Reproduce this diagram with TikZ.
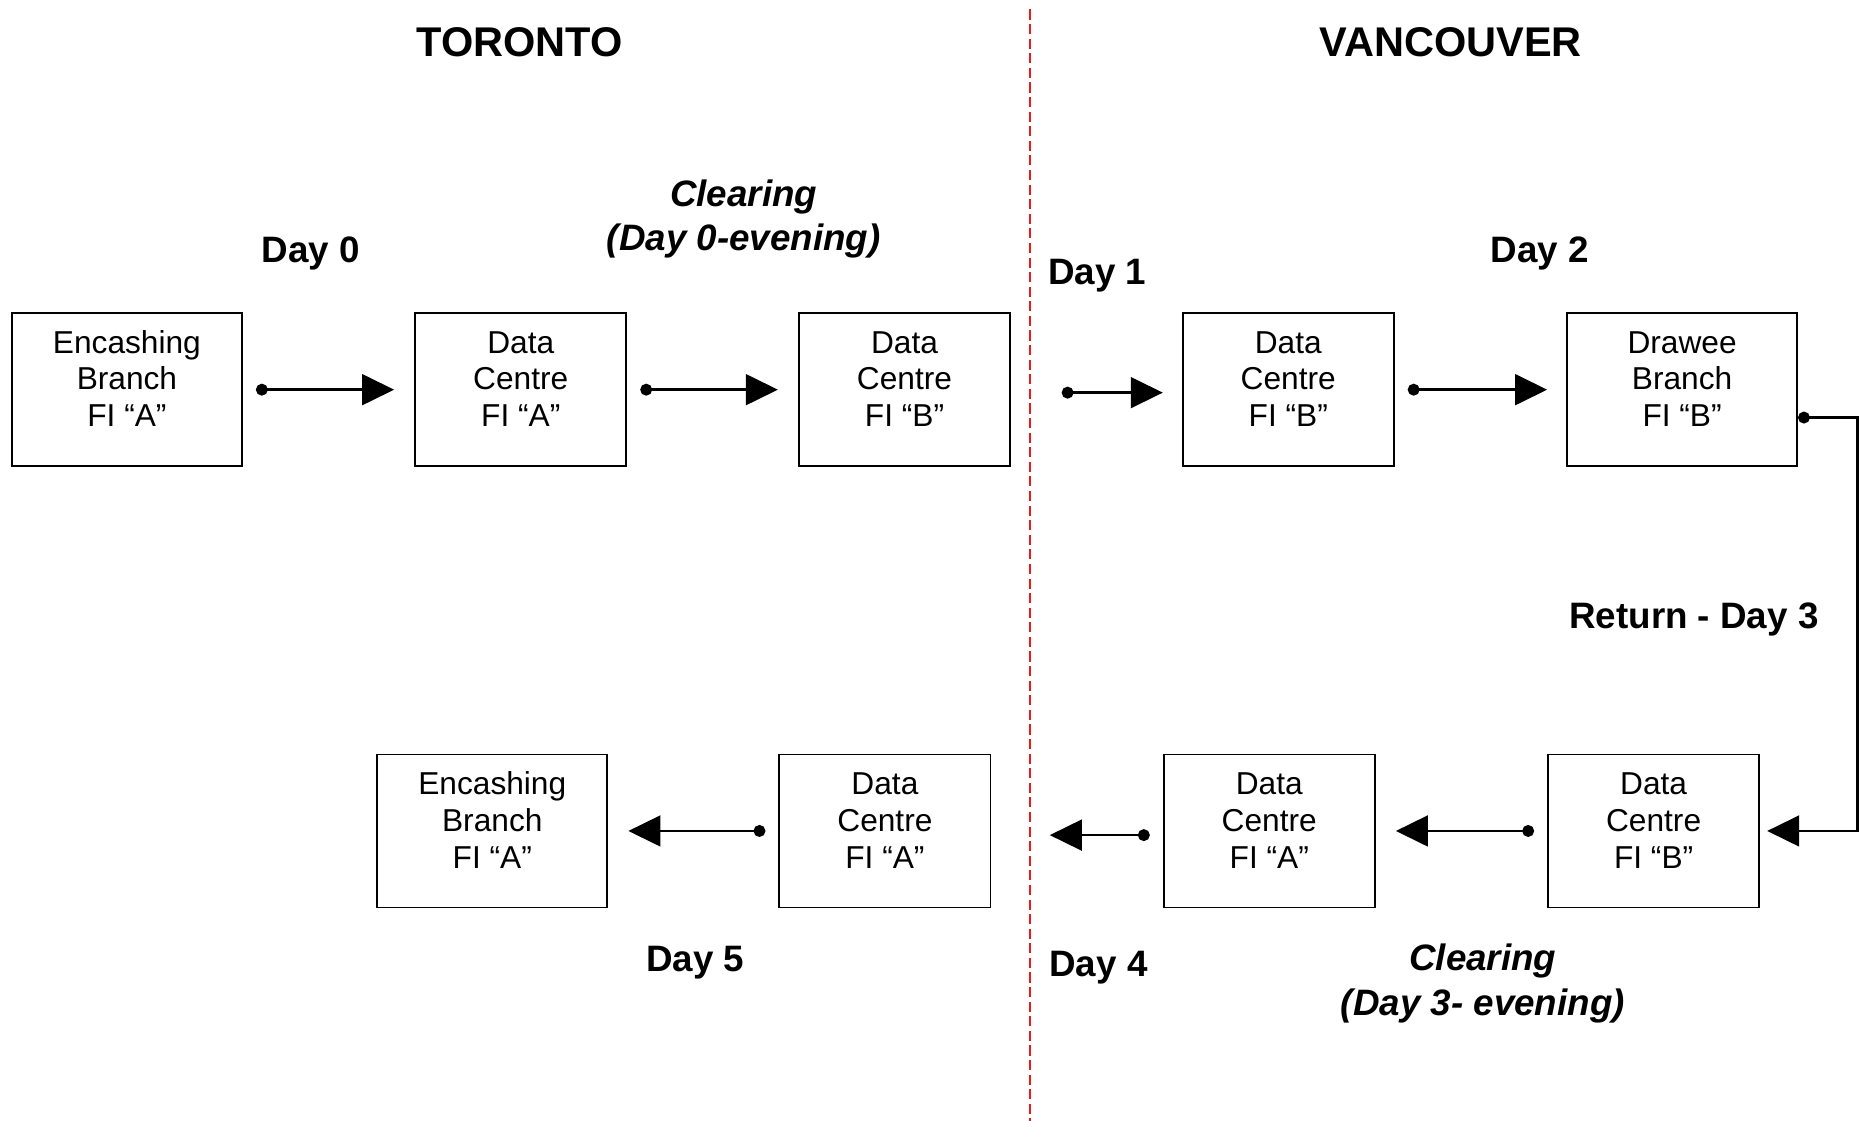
\documentclass[tikz,border=0pt]{standalone}
\usepackage{fontspec}
\setmainfont{Liberation Sans}
\usetikzlibrary{arrows.meta}
\definecolor{divred}{RGB}{240,25,25}
\tikzset{
  box/.style={draw=black, line width=1.5pt, inner sep=0pt, minimum height=129pt},
  wbox/.style={box, minimum width=194pt},
  nbox/.style={box, minimum width=178pt},
  boxtext/.style={anchor=base, inner sep=0pt, font=\fontsize{26.7}{31}\selectfont},
  conn/.style={line width=2pt, {Circle[length=10pt]}-{Triangle[length=27pt,width=26pt]}},
  head/.style={anchor=base, inner sep=0pt, font=\fontsize{35}{40}\selectfont\bfseries},
  daylbl/.style={anchor=base, inner sep=0pt, font=\fontsize{31}{36}\selectfont\bfseries},
  clr/.style={anchor=base, inner sep=0pt, font=\fontsize{31}{36}\selectfont\bfseries\itshape},
  divider/.style={draw=divred, line width=1.7pt, dash pattern=on 8.5pt off 3.8pt}
}
\newcommand{\boxlines}[3]{\begin{tabular}[t]{@{}c@{}}#1\\#2\\#3\end{tabular}}
\begin{document}
\begin{tikzpicture}[x=1pt,y=-1pt]
\useasboundingbox (0,0) rectangle (1568,945);
% divider
\coordinate (dtop) at (868,8);
\coordinate (dbot) at (868,945);
\draw[divider] (dtop) -- (dbot);
% headers
\node[head] (toronto) at (438,47.5) {TORONTO};
\node[head] (vancouver) at (1223,47.5) {VANCOUVER};
% top row boxes
\node[wbox] (b1) at (107,328.5) {};
\node[nbox] (b2) at (439,328.5) {};
\node[nbox] (b3) at (762.5,328.5) {};
\node[nbox] (b4) at (1086,328.5) {};
\node[wbox] (b5) at (1418,328.5) {};
% bottom row boxes
\node[wbox] (b6) at (415,700.5) {};
\node[nbox] (b7) at (746,700.5) {};
\node[nbox] (b8) at (1070,700.5) {};
\node[nbox] (b9) at (1394,700.5) {};
% box texts
\node[boxtext] (t1) at ([yshift=-34.5pt]b1.north) {\boxlines{Encashing}{Branch}{FI “A”}};
\node[boxtext] (t2) at ([yshift=-34.5pt]b2.north) {\boxlines{Data}{Centre}{FI “A”}};
\node[boxtext] (t3) at ([yshift=-34.5pt]b3.north) {\boxlines{Data}{Centre}{FI “B”}};
\node[boxtext] (t4) at ([yshift=-34.5pt]b4.north) {\boxlines{Data}{Centre}{FI “B”}};
\node[boxtext] (t5) at ([yshift=-34.5pt]b5.north) {\boxlines{Drawee}{Branch}{FI “B”}};
\node[boxtext] (t6) at ([yshift=-34.5pt]b6.north) {\boxlines{Encashing}{Branch}{FI “A”}};
\node[boxtext] (t7) at ([yshift=-34.5pt]b7.north) {\boxlines{Data}{Centre}{FI “A”}};
\node[boxtext] (t8) at ([yshift=-34.5pt]b8.north) {\boxlines{Data}{Centre}{FI “A”}};
\node[boxtext] (t9) at ([yshift=-34.5pt]b9.north) {\boxlines{Data}{Centre}{FI “B”}};
% labels
\node[daylbl] (day0) at (262,221) {Day 0};
\node[clr] (clr0a) at (627,174) {Clearing};
\node[clr] (clr0b) at (627,211) {(Day 0-evening)};
\node[daylbl] (day1) at (925,240) {Day 1};
\node[daylbl] (day2) at (1298,221) {Day 2};
\node[daylbl] (day3) at (1428,530) {Return - Day 3};
\node[daylbl] (day5) at (586,819) {Day 5};
\node[daylbl] (day4) at (926,823) {Day 4};
\node[clr] (clr3a) at (1250,818) {Clearing};
\node[clr] (clr3b) at (1250,856) {(Day 3- evening)};
% connectors
\coordinate (d1s) at (895,331);
\coordinate (rc1) at (1566,352);
\coordinate (d4e) at (885,704);
\draw[conn, shorten <=11pt, shorten >=17pt] (b1.east) -- (b2.west);
\draw[conn, shorten <=11pt, shorten >=17pt] (b2.east) -- (b3.west);
\draw[conn, shorten >=16pt] (d1s) -- (d1s -| b4.west);
\draw[conn, shorten <=11pt, shorten >=16pt] (b4.east) -- (b5.west);
\draw[conn, shorten >=6pt] (b5.east |- rc1) -- (rc1) |- (b9.east);
\draw[conn, shorten <=11pt, shorten >=17pt] (b9.west) -- (b8.east);
\draw[conn, shorten <=11pt] (b8.west |- d4e) -- (d4e);
\draw[conn, shorten <=11pt, shorten >=17pt] (b7.west) -- (b6.east);
\end{tikzpicture}
\end{document}
